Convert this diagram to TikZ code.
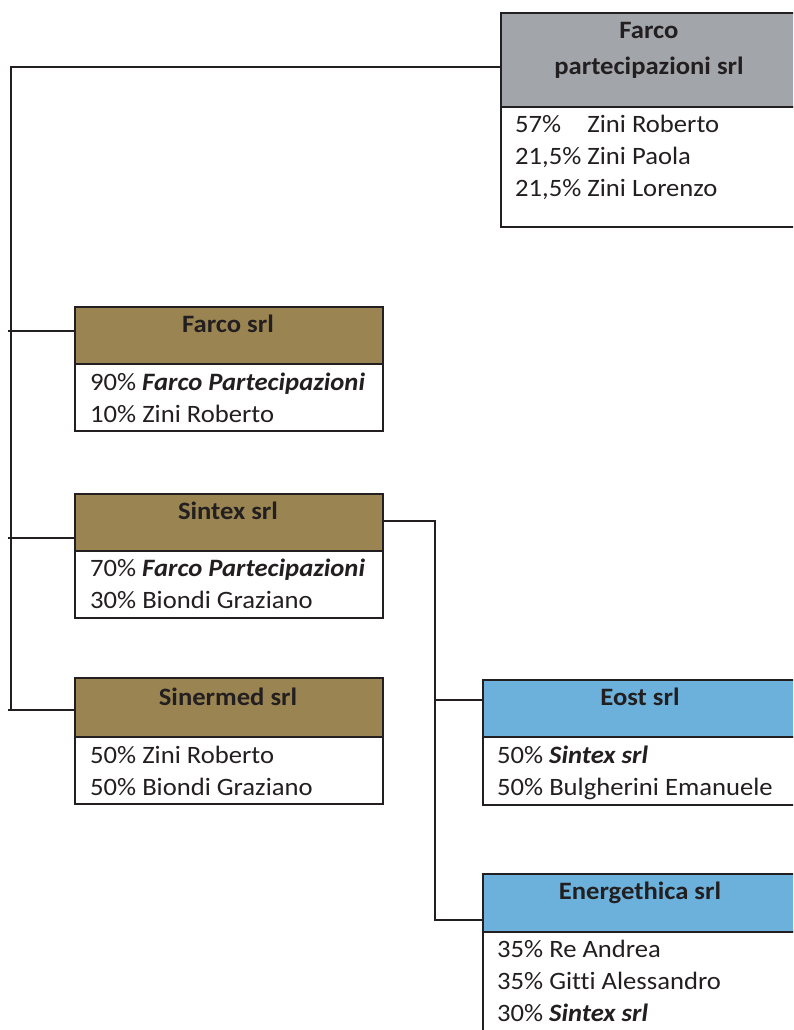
\documentclass[tikz,border=0pt]{standalone}
\usepackage{fontspec}
\setmainfont{Carlito}[FakeStretch=1.065, Ligatures=CommonOff]
\usetikzlibrary{calc}
\definecolor{hgray}{HTML}{A2A5A9}
\definecolor{holive}{HTML}{9A8552}
\definecolor{hblue}{HTML}{6BB1DB}
\definecolor{ink}{HTML}{231F20}
\tikzset{
  box/.style={draw=ink, line width=2pt, anchor=north west, inner sep=0pt, rectangle},
  conn/.style={draw=ink, line width=1.6pt},
  htxt/.style={anchor=base, font=\fontsize{25}{30}\selectfont\bfseries, text=ink, inner sep=0pt},
  btxt/.style={anchor=base west, font=\fontsize{25}{30}\selectfont, text=ink, inner sep=0pt},
}
\begin{document}
\begin{tikzpicture}[x=1pt,y=-1pt]
\useasboundingbox (0,0) rectangle (793,1030);
\clip (0,0) rectangle (793,1030);

% coordinates for connector bends
\coordinate (tA) at (11,67);
\coordinate (tB) at (11,710);
\coordinate (k1) at (8,331);
\coordinate (k2) at (8,538);
\coordinate (k3) at (8,710);
\coordinate (s0) at (435,521);
\coordinate (s1) at (435,920);
\coordinate (s2) at (435,700);

% boxes
\node[box, fill=white, minimum width=298, minimum height=120] (fpb) at (500,106) {};
\node[box, fill=hgray, minimum width=298, minimum height=94] (fph) at (500,12) {};

\node[box, fill=white, minimum width=308, minimum height=67] (fsb) at (74,363) {};
\node[box, fill=holive, minimum width=308, minimum height=57] (fsh) at (74,306) {};

\node[box, fill=white, minimum width=308, minimum height=67] (sxb) at (74,550) {};
\node[box, fill=holive, minimum width=308, minimum height=57] (sxh) at (74,493) {};

\node[box, fill=white, minimum width=308, minimum height=67] (smb) at (74,736) {};
\node[box, fill=holive, minimum width=308, minimum height=59] (smh) at (74,677) {};

\node[box, fill=white, minimum width=316, minimum height=68] (eob) at (482,736) {};
\node[box, fill=hblue, minimum width=316, minimum height=57] (eoh) at (482,679) {};

\node[box, fill=white, minimum width=316, minimum height=130] (enb) at (482,931) {};
\node[box, fill=hblue, minimum width=316, minimum height=58] (enh) at (482,873) {};

% connectors
\draw[conn] (fph.west |- tA) -- (tA) -- (tB);
\draw[conn] (k1) -- (k1 -| fsh.west);
\draw[conn] (k2) -- (k2 -| sxh.west);
\draw[conn] (k3) -- (k3 -| smh.west);
\draw[conn] (sxh.east |- s0) -- (s0) -- (s1) -- (s1 -| enh.west);
\draw[conn] (s2) -- (s2 -| eoh.west);

% texts
\node[htxt] (fpt1) at (649,39) {Farco};
\node[htxt] (fpt2) at (649,75) {partecipazioni srl};
\node[btxt] (fpl1) at (515,132) {\rlap{57\%}\phantom{21,5\%} Zini Roberto};
\node[btxt] (fpl2) at (515,164) {21,5\% Zini Paola};
\node[btxt] (fpl3) at (515,196) {21,5\% Zini Lorenzo};

\node[htxt] (fst) at (228,332) {Farco srl};
\node[btxt] (fsl1) at (90,390) {90\% \textbf{\textit{Farco Partecipazioni}}};
\node[btxt] (fsl2) at (90,422) {10\% Zini Roberto};

\node[htxt] (sxt) at (228,519) {Sintex srl};
\node[btxt] (sxl1) at (90,576) {70\% \textbf{\textit{Farco Partecipazioni}}};
\node[btxt] (sxl2) at (90,608) {30\% Biondi Graziano};

\node[htxt] (smt) at (228,705) {Sinermed srl};
\node[btxt] (sml1) at (90,763) {50\% Zini Roberto};
\node[btxt] (sml2) at (90,795) {50\% Biondi Graziano};

\node[htxt] (eot) at (640,705) {Eost srl};
\node[btxt] (eol1) at (497,763) {50\% \textbf{\textit{Sintex srl}}};
\node[btxt] (eol2) at (497,795) {50\% Bulgherini Emanuele};

\node[htxt] (ent) at (640,899) {Energethica srl};
\node[btxt] (enl1) at (497,957) {35\% Re Andrea};
\node[btxt] (enl2) at (497,989) {35\% Gitti Alessandro};
\node[btxt] (enl3) at (497,1021) {30\% \textbf{\textit{Sintex srl}}};
\end{tikzpicture}
\end{document}
